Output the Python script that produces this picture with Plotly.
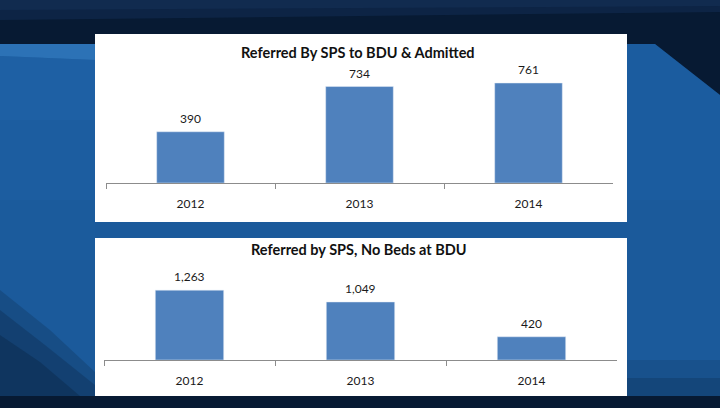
import plotly.graph_objects as go

# data
years = ["2012", "2013", "2014"]
admitted = [390, 734, 761]
no_beds = [1263, 1049, 420]

title_top = "Referred By SPS to BDU & Admitted"
title_bottom = "Referred by SPS, No Beds at BDU"

W, H = 720, 408
BAR = "#4f81bd"
AXIS = "#8c8c8c"
FONT = "Lato"


def px_x(v):
    return v / W


def px_y(v):
    return 1 - v / H


fig = go.Figure()

fig.add_trace(go.Bar(x=years, y=admitted, marker_color=BAR, xaxis="x", yaxis="y",
                     hoverinfo="x+y"))
fig.add_trace(go.Bar(x=years, y=no_beds, marker_color=BAR, xaxis="x2", yaxis="y2",
                     hoverinfo="x+y"))

# value labels above the bars (x given as category index)
annotations = []
for ys, xr, yr in [(admitted, "x", "y"), (no_beds, "x2", "y2")]:
    for i, v in enumerate(ys):
        annotations.append(dict(x=i, y=v, xref=xr, yref=yr, text=f"{v:,}",
                                showarrow=False, xanchor="center", yanchor="bottom",
                                yshift=4, font=dict(family=FONT, size=12, color="#1a1a1a")))

annotations.append(dict(x=px_x(358), y=px_y(52), xref="paper", yref="paper",
                        text="<b>" + title_top + "</b>", showarrow=False,
                        xanchor="center", yanchor="middle",
                        font=dict(family=FONT, size=14.5, color="#111")))
annotations.append(dict(x=px_x(359), y=px_y(249), xref="paper", yref="paper",
                        text="<b>" + title_bottom + "</b>", showarrow=False,
                        xanchor="center", yanchor="middle",
                        font=dict(family=FONT, size=14.5, color="#111")))


# background: dark navy frame, blue swoosh, white panels
def poly(points):
    return "M" + " L".join(f"{px_x(a):.4f},{px_y(b):.4f}" for a, b in points) + " Z"


def soft(points, color, op):
    return dict(type="path", xref="paper", yref="paper", layer="below", line_width=0,
                fillcolor=color, opacity=op, path=poly(points))


shapes = [
    # top band, a touch lighter at the very top
    soft([(0, 0), (720, 0), (720, 12), (0, 20)], "#1a3a66", 0.35),
    soft([(0, 0), (720, 0), (720, 6), (0, 10)], "#1a3a66", 0.3),
    # the blue swoosh
    soft([(0, 44), (655, 44), (720, 95), (720, 396), (0, 396)], "#1b5a9b", 1),
    soft([(0, 44), (95, 44), (95, 60), (0, 56)], "#3b86cc", 0.55),
    soft([(0, 56), (95, 60), (95, 120), (0, 120)], "#2468b0", 0.45),
    soft([(0, 120), (95, 120), (95, 200), (0, 200)], "#2266ad", 0.3),
    soft([(0, 200), (95, 200), (95, 260), (0, 260)], "#2064aa", 0.15),
    soft([(627, 44), (655, 44), (720, 95), (720, 200), (627, 200)], "#1f63a8", 0.3),
    # shadows low on the left and right
    soft([(0, 290), (50, 330), (95, 372), (95, 396), (0, 396)], "#0b2644", 0.25),
    soft([(0, 310), (45, 345), (95, 385), (95, 396), (0, 396)], "#0b2644", 0.3),
    soft([(0, 335), (40, 362), (80, 396), (0, 396)], "#0a2240", 0.35),
    soft([(627, 360), (720, 360), (720, 396), (627, 396)], "#0d2d52", 0.2),
    soft([(627, 378), (720, 378), (720, 396), (627, 396)], "#0d2d52", 0.3),
    # white chart panels
    dict(type="rect", xref="paper", yref="paper", layer="below", line_width=0,
         fillcolor="white", x0=px_x(95), x1=px_x(627), y0=px_y(222), y1=px_y(34)),
    dict(type="rect", xref="paper", yref="paper", layer="below", line_width=0,
         fillcolor="white", x0=px_x(95), x1=px_x(627), y0=px_y(396), y1=px_y(238)),
]

xaxis_style = dict(type="category", categoryorder="array", categoryarray=years,
                   range=[-0.5, 2.5], autorange=False,
                   showgrid=False, zeroline=False, showline=True,
                   linecolor=AXIS, linewidth=1, ticks="outside", tickson="boundaries",
                   ticklen=5, tickcolor=AXIS, ticklabelstandoff=10,
                   tickfont=dict(family=FONT, size=12, color="#1a1a1a"), fixedrange=True)
yaxis_style = dict(visible=False, showgrid=False, zeroline=False, fixedrange=True,
                   autorange=False)

fig.update_layout(
    width=W, height=H,
    margin=dict(l=0, r=0, t=0, b=0),
    paper_bgcolor="#071a33",
    plot_bgcolor="rgba(0,0,0,0)",
    showlegend=False,
    bargap=0.6,
    xaxis=dict(domain=[px_x(106), px_x(613)], anchor="y", **xaxis_style),
    yaxis=dict(domain=[px_y(183), px_y(60)], range=[0, 936], anchor="x", **yaxis_style),
    xaxis2=dict(domain=[px_x(104), px_x(617)], anchor="y2", **xaxis_style),
    yaxis2=dict(domain=[px_y(360), px_y(270)], range=[0, 1627], anchor="x2", **yaxis_style),
    annotations=annotations,
    shapes=shapes,
)

# the page's default 8px body margin would push the figure off the window
fig.write_html("out.html", config={"displayModeBar": False},
               post_script="document.body.style.margin='0';")
